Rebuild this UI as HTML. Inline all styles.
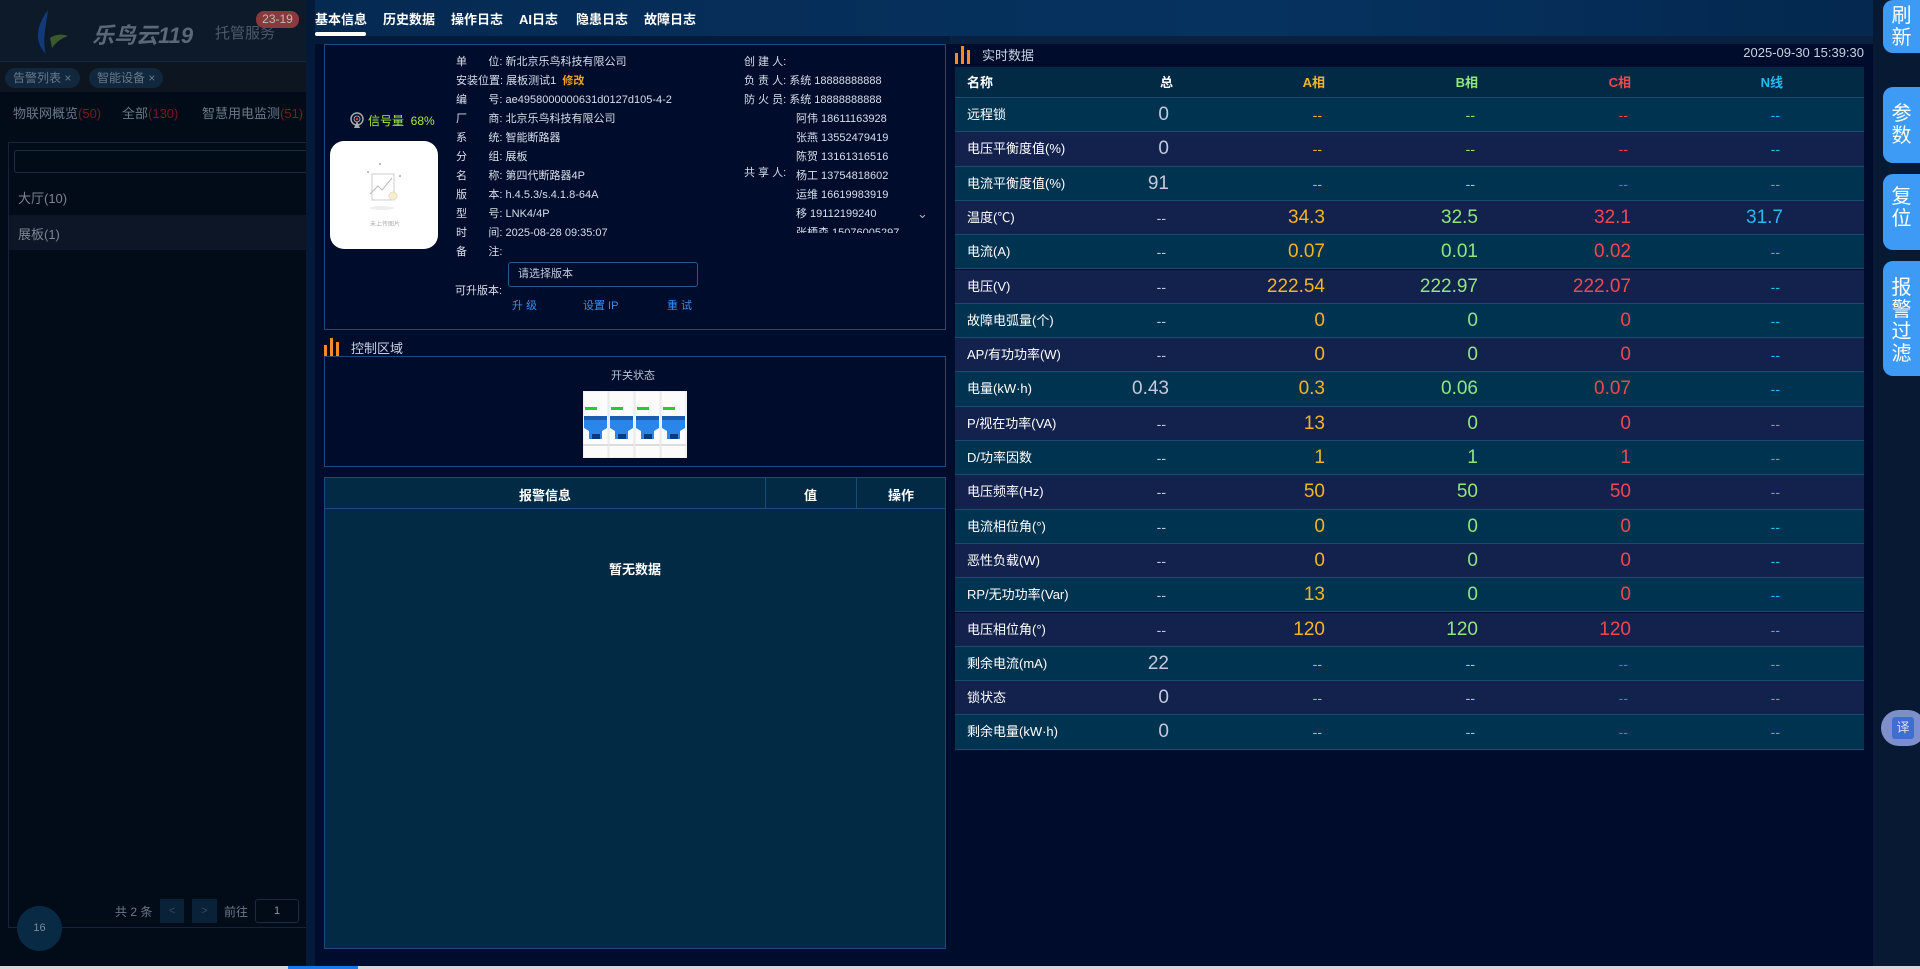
<!DOCTYPE html>
<html><head><meta charset="utf-8"><style>
*{margin:0;padding:0;box-sizing:border-box}
body{width:1920px;height:969px;overflow:hidden;background:#000c2b;font-family:"Liberation Sans","Noto Sans CJK SC",sans-serif;position:relative;color:#fff}
.a{position:absolute;white-space:nowrap}
.lp{position:absolute;left:0;top:0;width:306px;height:969px;background:#020c18}
.row{position:absolute;left:955px;width:909px;height:34.3px;border-bottom:1px solid #1c4a6e}
.row div{position:absolute;top:0;line-height:34px;text-align:right}
.n{left:12px;font-size:13px;color:#fff;text-align:left!important}
.c0{left:100px;width:114px;font-size:19px;color:#c3cadb}
.c1{left:225px;width:145px;font-size:19px;color:#f6b421}
.c2{left:378px;width:145px;font-size:19px;color:#8fe67c}
.c3{left:531px;width:145px;font-size:19px;color:#f2474f}
.c4{left:683px;width:145px;font-size:19px;color:#28b8f2}
.d{font-size:14px!important}
.il{position:absolute;font-size:11px;color:#d8deea;white-space:nowrap}
.btn{position:absolute;left:1883px;width:37px;background:#3d9bf5;border-radius:10px 0 0 10px;color:#fff;font-size:20px;line-height:22px;text-align:center;padding-top:8px}
</style></head><body>
<div class="lp">
 <div class="a" style="left:0;top:0;width:306px;height:62px;background:#0c1a2a;border-bottom:1px solid #14283e"></div>
 <svg class="a" style="left:28px;top:8px" width="45" height="48"><path d="M20 2 C8 18 6 34 18 46 C14 32 18 18 20 2Z" fill="#123a78"/><path d="M22 30 C28 26 34 26 40 28 C34 30 28 34 24 40Z" fill="#3a5a2a"/></svg>
 <div class="a" style="left:92px;top:18px;font-size:22px;font-weight:bold;font-style:italic;color:#5a6878">乐鸟云119</div>
 <div class="a" style="left:215px;top:22px;font-size:15px;color:#4c5a68">托管服务</div>
 <div class="a" style="left:256px;top:11px;width:43px;height:17px;border-radius:8px;background:#8a3a3c;color:#bbb;font-size:12px;text-align:center;line-height:17px">23-19</div>
 <div class="a" style="left:0;top:62px;width:306px;height:30px;background:#0c1520"></div>
 <div class="a" style="left:5px;top:68px;width:75px;height:20px;border-radius:10px;background:#10273e;color:#6a7888;font-size:12px;line-height:20px;padding-left:8px">告警列表 ×</div>
 <div class="a" style="left:89px;top:68px;width:74px;height:20px;border-radius:10px;background:#10273e;color:#6a7888;font-size:12px;line-height:20px;padding-left:8px">智能设备 ×</div>
 <div class="a" style="left:13px;top:103px;font-size:13px;color:#6a7888">物联网概览<span style="color:#7a1a1e">(50)</span></div>
 <div class="a" style="left:122px;top:103px;font-size:13px;color:#6a7888">全部<span style="color:#7a1a1e">(130)</span></div>
 <div class="a" style="left:202px;top:103px;font-size:13px;color:#6a7888">智慧用电监测<span style="color:#7a1a1e">(51)</span></div>
 <div class="a" style="left:8px;top:142px;width:300px;height:786px;border:1px solid #14243a"></div>
 <div class="a" style="left:14px;top:150px;width:294px;height:23px;border:1px solid #1a2c42;border-radius:3px"></div>
 <div class="a" style="left:18px;top:188px;font-size:13px;color:#7a8694">大厅(10)</div>
 <div class="a" style="left:9px;top:215px;width:297px;height:35px;background:#0c1626"></div>
 <div class="a" style="left:18px;top:224px;font-size:13px;color:#7a8694">展板(1)</div>
 <div class="a" style="left:115px;top:903px;font-size:12px;color:#6a7888">共 2 条</div>
 <div class="a" style="left:160px;top:899px;width:24px;height:24px;background:#0a2238;color:#3a4a5a;font-size:11px;text-align:center;line-height:24px">&lt;</div>
 <div class="a" style="left:192px;top:899px;width:25px;height:24px;background:#0a2238;color:#3a4a5a;font-size:11px;text-align:center;line-height:24px">&gt;</div>
 <div class="a" style="left:224px;top:903px;font-size:12px;color:#6a7888">前往</div>
 <div class="a" style="left:255px;top:899px;width:44px;height:24px;border:1px solid #1a2c42;border-radius:3px;color:#8a96a4;font-size:11px;text-align:center;line-height:22px">1</div>
 <div class="a" style="left:17px;top:906px;width:45px;height:45px;border-radius:50%;background:#082a44;color:#7a8a9a;font-size:11px;text-align:center;line-height:45px">16</div>
</div>
<div class="a" style="left:306px;top:0;width:9px;height:969px;background:#031a38"></div>
<div class="a" style="left:315px;top:0;width:1558px;height:36px;background:linear-gradient(90deg,#052a52,#063260 60%,#04284f)"></div>
<div class="a" style="left:315px;top:9px;font-size:13px;font-weight:bold">基本信息</div>
<div class="a" style="left:315px;top:32px;width:51px;height:4px;background:#fff;border-radius:2px"></div>
<div class="a" style="left:383px;top:9px;font-size:13px;font-weight:bold">历史数据</div>
<div class="a" style="left:451px;top:9px;font-size:13px;font-weight:bold">操作日志</div>
<div class="a" style="left:519px;top:9px;font-size:13px;font-weight:bold">AI日志</div>
<div class="a" style="left:576px;top:9px;font-size:13px;font-weight:bold">隐患日志</div>
<div class="a" style="left:644px;top:9px;font-size:13px;font-weight:bold">故障日志</div>
<div class="a" style="left:315px;top:36px;width:1558px;height:8px;background:#041a3a"></div>
<div class="a" style="left:324px;top:44px;width:622px;height:286px;border:1px solid #1e4a7a"></div>
<svg class="a" style="left:349px;top:112px" width="16" height="17"><circle cx="8" cy="7" r="6" fill="none" stroke="#aaa" stroke-width="1.5"/><circle cx="8" cy="7" r="3" fill="none" stroke="#aaa"/><circle cx="8" cy="7" r="1.3" fill="#e33"/><path d="M5 16 L8 9 L11 16Z" fill="#aaa"/></svg>
<div class="a" style="left:368px;top:112px;font-size:12px;color:#a6f03c">信号量&nbsp;&nbsp;68%</div>
<div class="a" style="left:330px;top:141px;width:108px;height:108px;background:#fff;border-radius:14px"></div>
<svg class="a" style="left:360px;top:162px" width="50" height="60"><rect x="12" y="12" width="22" height="26" fill="none" stroke="#ccc"/><polyline points="10,32 18,24 22,28 32,16" fill="none" stroke="#bbb"/><circle cx="33" cy="34" r="4" fill="#fbeec0" stroke="#ddd"/><ellipse cx="22" cy="46" rx="12" ry="2" fill="#eee"/><circle cx="8" cy="10" r="1" fill="#aaa"/><circle cx="40" cy="14" r="1" fill="#aaa"/><circle cx="20" cy="2" r="1" fill="#aaa"/></svg>
<div class="a" style="left:370px;top:219px;font-size:6px;color:#aaa">未上传图片</div>
<div class="il" style="left:456px;top:53px">单&nbsp;&nbsp;&nbsp;&nbsp;&nbsp;&nbsp;&nbsp;位: 新北京乐鸟科技有限公司</div>
<div class="il" style="left:456px;top:72px">安装位置: 展板测试1 &nbsp;<span style="color:#f6a020;font-weight:bold">修改</span></div>
<div class="il" style="left:456px;top:91px">编&nbsp;&nbsp;&nbsp;&nbsp;&nbsp;&nbsp;&nbsp;号: ae4958000000631d0127d105-4-2</div>
<div class="il" style="left:456px;top:110px">厂&nbsp;&nbsp;&nbsp;&nbsp;&nbsp;&nbsp;&nbsp;商: 北京乐鸟科技有限公司</div>
<div class="il" style="left:456px;top:129px">系&nbsp;&nbsp;&nbsp;&nbsp;&nbsp;&nbsp;&nbsp;统: 智能断路器</div>
<div class="il" style="left:456px;top:148px">分&nbsp;&nbsp;&nbsp;&nbsp;&nbsp;&nbsp;&nbsp;组: 展板</div>
<div class="il" style="left:456px;top:167px">名&nbsp;&nbsp;&nbsp;&nbsp;&nbsp;&nbsp;&nbsp;称: 第四代断路器4P</div>
<div class="il" style="left:456px;top:186px">版&nbsp;&nbsp;&nbsp;&nbsp;&nbsp;&nbsp;&nbsp;本: h.4.5.3/s.4.1.8-64A</div>
<div class="il" style="left:456px;top:205px">型&nbsp;&nbsp;&nbsp;&nbsp;&nbsp;&nbsp;&nbsp;号: LNK4/4P</div>
<div class="il" style="left:456px;top:224px">时&nbsp;&nbsp;&nbsp;&nbsp;&nbsp;&nbsp;&nbsp;间: 2025-08-28 09:35:07</div>
<div class="il" style="left:456px;top:243px">备&nbsp;&nbsp;&nbsp;&nbsp;&nbsp;&nbsp;&nbsp;注:</div>
<div class="il" style="left:744px;top:53px">创&nbsp;建&nbsp;人:</div>
<div class="il" style="left:744px;top:72px">负&nbsp;责&nbsp;人: 系统 18888888888</div>
<div class="il" style="left:744px;top:91px">防&nbsp;火&nbsp;员: 系统 18888888888</div>
<div class="il" style="left:796px;top:110px">阿伟 18611163928</div>
<div class="il" style="left:796px;top:129px">张燕 13552479419</div>
<div class="il" style="left:796px;top:148px">陈贺 13161316516</div>
<div class="il" style="left:744px;top:164px">共&nbsp;享&nbsp;人:</div>
<div class="il" style="left:796px;top:167px">杨工 13754818602</div>
<div class="il" style="left:796px;top:186px">运维 16619983919</div>
<div class="il" style="left:796px;top:205px">移 19112199240</div>
<div class="a" style="left:796px;top:224px;height:9px;overflow:hidden"><div class="il" style="position:static">张栖森 15076005297</div></div>
<div class="a" style="left:917px;top:206px;font-size:13px;color:#aab">&#8964;</div>
<div class="a" style="left:508px;top:262px;width:190px;height:25px;border:1px solid #2a5a8a;border-radius:3px;font-size:11px;color:#c0c8d8;line-height:23px;padding-left:9px">请选择版本</div>
<div class="il" style="left:455px;top:282px">可升版本:</div>
<div class="il" style="left:512px;top:297px;color:#3a8ef0">升 级</div>
<div class="il" style="left:583px;top:297px;color:#3a8ef0">设置 IP</div>
<div class="il" style="left:667px;top:297px;color:#3a8ef0">重 试</div>
<svg class="a" style="left:324px;top:336px" width="18" height="20"><rect x="0" y="9" width="3" height="11" fill="#f58a2a"/><rect x="6" y="2" width="3" height="18" fill="#f58a2a"/><rect x="12" y="6" width="3" height="14" fill="#f58a2a"/></svg>
<div class="a" style="left:351px;top:338px;font-size:13px;color:#c8d0e0">控制区域</div>
<div class="a" style="left:324px;top:356px;width:622px;height:111px;border:1px solid #1e4a7a"></div>
<div class="a" style="left:611px;top:367px;font-size:11px;color:#b8c4d4">开关状态</div>
<svg class="a" style="left:583px;top:391px" width="104" height="67"><rect width="104" height="67" fill="#fff"/>
<g id="p"><rect x="0" y="0" width="25" height="67" fill="#fbfbfb" stroke="#ddd" stroke-width="0.6"/><rect x="2" y="16" width="12" height="3" fill="#1fd02a"/><rect x="1" y="25" width="23" height="4" fill="#1a5cb0"/><path d="M1 29 H24 V37 L19 40 V48 H6 V40 L1 37Z" fill="#2a86e8"/><rect x="9" y="43" width="8" height="5" fill="#0b3a80"/><rect x="0" y="53" width="25" height="2" fill="#ddd"/></g>
<use href="#p" x="26"/><use href="#p" x="52"/><use href="#p" x="78"/></svg>
<div class="a" style="left:324px;top:477px;width:622px;height:472px;border:1px solid #1e4a7a;background:#022a45"></div>
<div class="a" style="left:324px;top:508px;width:622px;height:1px;background:#1e4a7a"></div>
<div class="a" style="left:765px;top:477px;width:1px;height:31px;background:#1e4a7a"></div>
<div class="a" style="left:856px;top:477px;width:1px;height:31px;background:#1e4a7a"></div>
<div class="a" style="left:519px;top:485px;font-size:13px;font-weight:bold">报警信息</div>
<div class="a" style="left:804px;top:485px;font-size:13px;font-weight:bold">值</div>
<div class="a" style="left:888px;top:485px;font-size:13px;font-weight:bold">操作</div>
<div class="a" style="left:609px;top:559px;font-size:13px;font-weight:bold">暂无数据</div>
<div class="a" style="left:950px;top:36px;width:923px;height:8px;background:#0a2040"></div>
<svg class="a" style="left:955px;top:44px" width="18" height="20"><rect x="0" y="9" width="3" height="11" fill="#f58a2a"/><rect x="6" y="2" width="3" height="18" fill="#f58a2a"/><rect x="12" y="6" width="3" height="14" fill="#f58a2a"/></svg>
<div class="a" style="left:982px;top:45px;font-size:13px;color:#c8d0e0">实时数据</div>
<div class="a" style="right:56px;top:45px;font-size:13px;color:#c8d0e0">2025-09-30 15:39:30</div>
<div class="row" style="top:67px;height:31px;background:#022a45;font-weight:bold">
<div class="n" style="line-height:31px">名称</div><div class="c0 d" style="line-height:31px;font-size:13px!important;color:#fff;width:118px">总</div><div class="c1" style="line-height:31px;font-size:13px;width:145px">A相</div><div class="c2" style="line-height:31px;font-size:13px;width:145px">B相</div><div class="c3" style="line-height:31px;font-size:13px;width:145px">C相</div><div class="c4" style="line-height:31px;font-size:13px;width:145px">N线</div></div>
<div id="rows"></div>
<div class="a" style="left:1873px;top:0;width:47px;height:969px;background:#081a33"></div>
<div class="btn" style="top:0;height:53px;padding-top:5px">刷<br>新</div>
<div class="btn" style="top:87px;height:76px;padding-top:16px">参<br>数</div>
<div class="btn" style="top:174px;height:76px;padding-top:12px">复<br>位</div>
<div class="btn" style="top:261px;height:115px;padding-top:16px">报<br>警<br>过<br>滤</div>
<div class="a" style="left:1881px;top:710px;width:45px;height:36px;border-radius:18px;background:#7d90cc"></div>
<div class="a" style="left:1892px;top:717px;width:22px;height:22px;border-radius:3px;background:#3d6ed0;color:#dde;font-size:13px;text-align:center;line-height:22px">译</div>
<div class="a" style="left:0;top:966px;width:1920px;height:3px;background:#d8d8d8"></div>
<div class="a" style="left:288px;top:966px;width:70px;height:3px;background:#1a7ae8"></div>
<script>
var D=[["远程锁","0","--","--","--","--"],["电压平衡度值(%)","0","--","--","--","--"],["电流平衡度值(%)","91","--","--","--","--"],["温度(℃)","--","34.3","32.5","32.1","31.7"],["电流(A)","--","0.07","0.01","0.02","--"],["电压(V)","--","222.54","222.97","222.07","--"],["故障电弧量(个)","--","0","0","0","--"],["AP/有功功率(W)","--","0","0","0","--"],["电量(kW·h)","0.43","0.3","0.06","0.07","--"],["P/视在功率(VA)","--","13","0","0","--"],["D/功率因数","--","1","1","1","--"],["电压频率(Hz)","--","50","50","50","--"],["电流相位角(°)","--","0","0","0","--"],["恶性负载(W)","--","0","0","0","--"],["RP/无功功率(Var)","--","13","0","0","--"],["电压相位角(°)","--","120","120","120","--"],["剩余电流(mA)","22","--","--","--","--"],["锁状态","0","--","--","--","--"],["剩余电量(kW·h)","0","--","--","--","--"]];
var h="";D.forEach(function(r,i){h+='<div class="row" style="top:'+(98+i*34.3).toFixed(1)+'px;background:'+(i%2?'#13214d':'#003350')+'"><div class="n">'+r[0]+'</div>';for(var k=1;k<6;k++){var dd=r[k]=="--";h+='<div class="c'+(k-1)+(dd?' d':'')+'"'+(dd?' style="padding-right:3px"':'')+'>'+r[k]+'</div>';}h+='</div>';});
document.getElementById("rows").innerHTML=h;
</script>
</body></html>
